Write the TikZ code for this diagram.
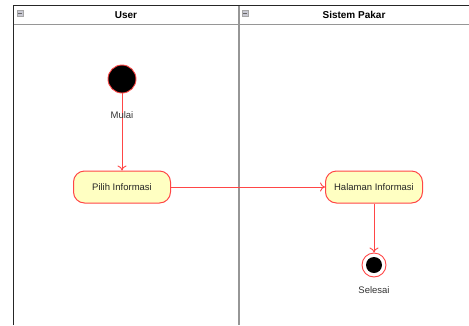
\documentclass[tikz,border=0pt]{standalone}
\usepackage{fontspec}
\setmainfont{Liberation Sans}
\usetikzlibrary{arrows.meta}
\definecolor{umlred}{RGB}{255,70,70}
\definecolor{umlfill}{RGB}{255,255,194}
\definecolor{lanegray}{RGB}{150,150,150}
\definecolor{icongray}{RGB}{200,200,210}
\begin{document}
\begin{tikzpicture}[x=1pt,y=-1pt,
  action/.style={draw=umlred, fill=umlfill, rounded corners=11pt, line width=1pt,
    minimum width=97pt, minimum height=32pt, font=\fontsize{9.5}{11}\selectfont, text=black!85},
  startnode/.style={circle, draw=umlred, fill=black, line width=0.9pt, minimum size=28pt, inner sep=0pt},
  endnode/.style={circle, draw=umlred, fill=white, line width=0.9pt, minimum size=24pt, inner sep=0pt},
  lbl/.style={font=\fontsize{9.5}{11}\selectfont, text=black!80},
  flow/.style={draw=umlred, line width=0.9pt, -{To[length=5pt,width=9pt]}},
  header/.style={font=\bfseries\fontsize{10}{12}\selectfont},
  icon/.style={draw=gray!70, fill=icongray, line width=0.3pt, minimum size=6pt, inner sep=0pt}]
\useasboundingbox (0,0) rectangle (469,325);
% swimlane frame
\draw[black!85, line width=0.8pt] (13.5,325) -- (13.5,5.5) -- (469,5.5);
\draw[lanegray, line width=1.6pt] (13.5,24.5) -- (469,24.5);
\draw[lanegray, line width=1.6pt] (239,5.5) -- (239,325);
\node[header] (hUser) at (126,15) {User};
\node[header] (hSys) at (354,15) {Sistem Pakar};
\node[icon] (i1) at (20,13) {};
\draw[black!60, line width=0.6pt] (18,13) -- (22,13);
\node[icon] (i2) at (245,13) {};
\draw[black!60, line width=0.6pt] (243,13) -- (247,13);
% nodes
\node[startnode] (start) at (122,79) {};
\node[action] (pilih) at (122,187) {Pilih Informasi};
\node[action] (hal) at (374,187) {Halaman Informasi};
\node[endnode] (end) at (374,265) {};
\node[circle, fill=black, minimum size=16pt, inner sep=0pt] (endin) at (end) {};
\node[lbl] (selesai) at (374,290) {Selesai};
% flows
\draw[flow] (start) -- (pilih);
\node[lbl] (mulai) at (122,115) {Mulai};
\draw[flow] (pilih) -- (hal);
\draw[flow] (hal) -- (end);
\end{tikzpicture}
\end{document}
